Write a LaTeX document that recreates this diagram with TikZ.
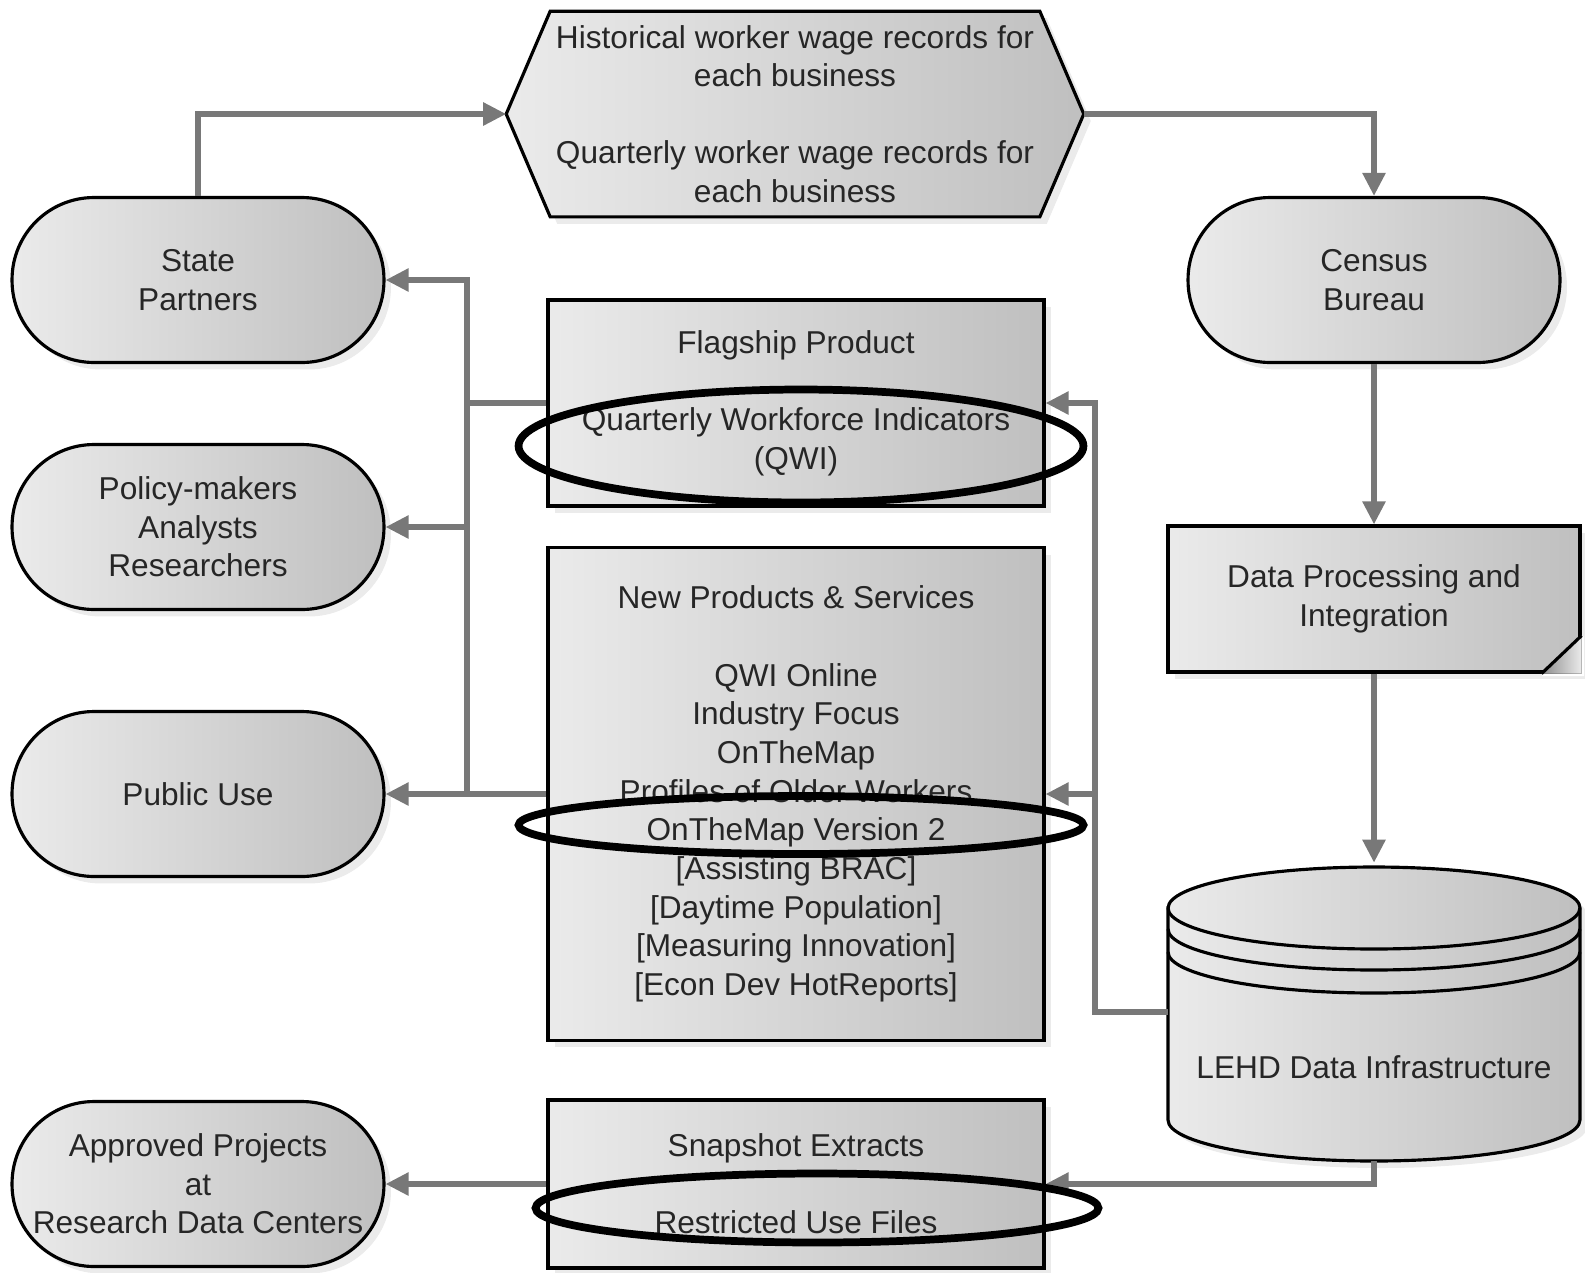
\documentclass[tikz,border=0pt]{standalone}
\usepackage{fontspec}
\setmainfont{Liberation Sans}
\usetikzlibrary{arrows.meta,shapes.geometric,shadows,backgrounds}
\tikzset{
  shade box/.style={left color=black!8, right color=black!25},
  soft shadow/.style={drop shadow={opacity=0.16, shadow xshift=0.14cm, shadow yshift=-0.14cm}},
  pill/.style={shade box, soft shadow, draw, line width=1.8pt, rounded corners=1.64cm,
    minimum width=7.44cm, minimum height=3.3cm, align=center},
  panel/.style={shade box, soft shadow, draw, line width=1.8pt, minimum width=9.92cm, align=center},
  flow/.style={draw=black!53, line width=3.1pt, -{Triangle[length=0.46cm,width=0.44cm]}},
  ring/.style={ellipse, draw, line width=4.4pt, inner sep=0pt},
}
\begin{document}
\begin{tikzpicture}[x=0.02cm, y=-0.02cm, font=\fontsize{18}{22}\selectfont, text=black!85]
  \useasboundingbox (0,0) rectangle (1585,1272);
  \node[minimum width=11.54cm, minimum height=4.1cm, align=center] (hist) at (795,114)
    {Historical worker wage records for\\each business\\[22pt]Quarterly worker wage records for\\each business};
  \begin{scope}[on background layer]
    \path[shade box, soft shadow, draw, line width=1.8pt] (hist.west) -- ([xshift=0.88cm]hist.north west)
      -- ([xshift=-0.88cm]hist.north east) -- (hist.east) -- ([xshift=-0.88cm]hist.south east)
      -- ([xshift=0.88cm]hist.south west) -- cycle;
  \end{scope}
  \node[pill] (state) at (198,280) {State\\Partners};
  \node[pill] (census) at (1374,280) {Census\\Bureau};
  \node[pill] (policy) at (198,527) {Policy-makers\\Analysts\\Researchers};
  \node[pill] (public) at (198,794) {Public Use};
  \node[pill] (approved) at (198,1184) {Approved Projects\\at\\Research Data Centers};
  \node[panel, minimum height=4.12cm] (flag) at (796,403)
    {Flagship Product\\[22pt]Quarterly Workforce Indicators\\(QWI)};
  \node[panel, minimum height=9.86cm] (prod) at (796,794)
    {New Products \& Services\\[22pt]QWI Online\\Industry Focus\\OnTheMap\\Profiles of Older Workers\\OnTheMap Version 2\\{}[Assisting BRAC]\\{}[Daytime Population]\\{}[Measuring Innovation]\\{}[Econ Dev HotReports]};
  \node[panel, minimum height=3.36cm] (snap) at (796,1184) {Snapshot Extracts\\[22pt]Restricted Use Files};
  \node[panel, minimum width=8.24cm, minimum height=2.92cm] (dp) at (1374,599) {Data Processing and\\Integration};
  \fill[white] ([xshift=-0.8cm,yshift=-0.05cm]dp.south east) -- ([xshift=0.05cm,yshift=0.76cm]dp.south east)
    -- ([xshift=0.05cm,yshift=-0.05cm]dp.south east) -- cycle;
  \fill[left color=black!45, right color=black!8] ([xshift=-0.8cm]dp.south east) -- ([yshift=0.76cm]dp.south east)
    -- (dp.south east) -- cycle;
  \draw[line width=1.8pt] ([xshift=-0.8cm]dp.south east) -- ([yshift=0.76cm]dp.south east);
  \node[minimum width=8.24cm, minimum height=5.96cm] (lehd) at (1374,1012) {};
  \path[shade box, soft shadow, draw, line width=1.8pt] (1168,908) -- (1168,1120)
    arc[start angle=180, end angle=360, x radius=4.12cm, y radius=0.82cm] -- (1580,908)
    arc[start angle=0, end angle=180, x radius=4.12cm, y radius=0.82cm] -- cycle;
  \foreach \y in {908,929,952}
    \draw[line width=1.8pt] (1168,\y) arc[start angle=180, end angle=360, x radius=4.12cm, y radius=0.82cm];
  \node (lehdtxt) at (1374,1067) {LEHD Data Infrastructure};
  \coordinate (lbus) at (467,280);
  \coordinate (rbus) at (1095,403);
  \begin{scope}[flow]
    \draw (state.north) |- (hist.west);
    \draw (hist.east) -| (census.north);
    \draw (census.south) -- (dp.north);
    \draw (dp.south) -- (lehd.north);
    \draw (lehd.west) -| (rbus) -- (flag.east);
    \draw (rbus |- prod.east) -- (prod.east);
    \draw (lehd.south) |- (snap.east);
    \draw (snap.west) -- (approved.east);
    \draw (flag.west) -| (lbus) -- (state.east);
    \draw (lbus |- policy.east) -- (policy.east);
    \draw[-] (lbus) -- (lbus |- prod.west);
    \draw (prod.west) -- (public.east);
  \end{scope}
  \node[ring, minimum width=11.3cm, minimum height=2.26cm] (qwiring) at (801,446) {};
  \node[ring, minimum width=11.3cm, minimum height=1.16cm] (otmring) at (801,825) {};
  \node[ring, minimum width=11.26cm, minimum height=1.38cm] (rufring) at (817,1208) {};
\end{tikzpicture}
\end{document}
